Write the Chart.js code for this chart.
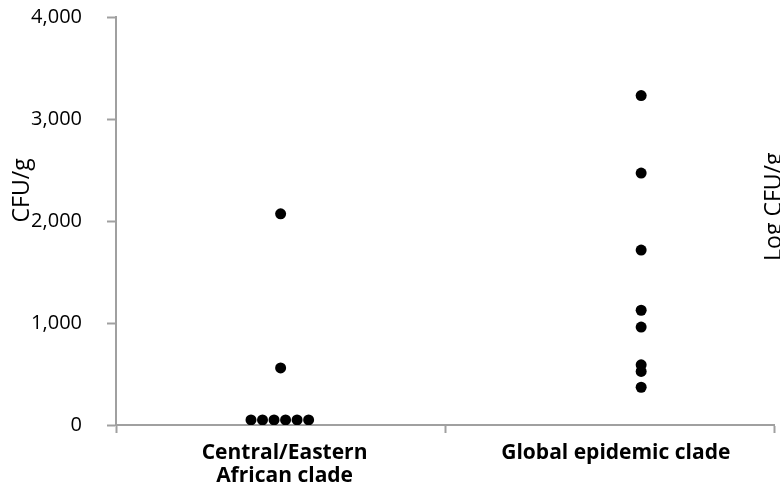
<!DOCTYPE html>
<html>
<head>
<meta charset="utf-8">
<script src="https://cdn.jsdelivr.net/npm/chart.js@4"></script>
<style>
  body { margin: 0; background: #fff; overflow: hidden; }
</style>
</head>
<body>
<canvas id="chart" width="780" height="488"></canvas>
<script>
// categories and values
const categories = [["Central/Eastern", "African clade"], "Global epidemic clade"];
const yTitle = "CFU/g";
const y2Title = "Log CFU/g";

// x positions are in category units (0..2), jittered where dots sit side by side
const caeX = [0.5, 0.5, 0.41, 0.445, 0.48, 0.515, 0.55, 0.585];
const caeY = [2070, 560, 50, 50, 50, 50, 50, 50];
const gecX = [1.595, 1.595, 1.595, 1.595, 1.595, 1.595, 1.595, 1.595];
const gecY = [3230, 2470, 1715, 1125, 960, 590, 525, 370];

const axisGrey = "#a0a0a0";

const toPoints = (xs, ys) => xs.map((x, i) => ({ x: x, y: ys[i] }));

const axisTitles = {
  id: "axisTitles",
  afterDraw(chart) {
    const { ctx, chartArea } = chart;
    const h = chartArea.bottom - chartArea.top;
    ctx.save();
    ctx.font = '23px "Open Sans"';
    ctx.fillStyle = "#000";
    ctx.textAlign = "center";

    ctx.save();
    ctx.translate(22, chartArea.top + h * 0.425);
    ctx.rotate(-Math.PI / 2);
    ctx.textBaseline = "middle";
    ctx.fillText(yTitle, 0, 0);
    ctx.restore();

    // right title is cut off by the picture edge
    ctx.save();
    ctx.translate(chartArea.right - 12, chartArea.top + h * 0.465);
    ctx.rotate(-Math.PI / 2);
    ctx.textBaseline = "top";
    ctx.fillText(y2Title, 0, 0);
    ctx.restore();

    ctx.restore();
  },
};

new Chart(document.getElementById("chart"), {
  type: "scatter",
  data: {
    datasets: [
      { data: toPoints(caeX, caeY) },
      { data: toPoints(gecX, gecY) },
    ],
  },
  options: {
    responsive: false,
    animation: false,
    layout: { padding: { top: 17, right: 1, left: 0, bottom: 0 } },
    elements: {
      point: { radius: 5.5, backgroundColor: "#000", borderWidth: 0 },
    },
    plugins: { legend: { display: false }, tooltip: { enabled: false } },
    scales: {
      x: {
        type: "linear",
        min: 0,
        max: 2,
        afterBuildTicks: (scale) => {
          scale.ticks = [0, 0.512, 1, 1.518, 2].map((v) => ({ value: v }));
        },
        afterFit: (scale) => {
          scale.height = 63;
          scale.paddingLeft = 0;
          scale.paddingRight = 0;
        },
        ticks: {
          autoSkip: false,
          maxRotation: 0,
          padding: 8,
          color: "#000",
          font: { family: "Open Sans", size: 21, weight: "bold", lineHeight: 1.11 },
          callback: (value) => {
            if (value === 0.512) return categories[0];
            if (value === 1.518) return categories[1];
            return "";
          },
        },
        grid: {
          drawOnChartArea: false,
          tickLength: 8,
          tickWidth: 2,
          tickColor: (ctx) => (Number.isInteger(ctx.tick.value) ? axisGrey : "transparent"),
        },
        border: { color: axisGrey, width: 2 },
      },
      y: {
        min: 0,
        max: 4000,
        afterFit: (scale) => {
          scale.width = 116;
          scale.paddingTop = 0;
          scale.paddingBottom = 0;
        },
        ticks: {
          stepSize: 1000,
          padding: 25,
          color: "#000",
          font: { family: "Open Sans", size: 20 },
        },
        grid: {
          drawOnChartArea: false,
          tickLength: 9,
          tickWidth: 2,
          tickColor: axisGrey,
        },
        border: { color: axisGrey, width: 2 },
      },
    },
  },
  plugins: [axisTitles],
});
</script>
</body>
</html>
